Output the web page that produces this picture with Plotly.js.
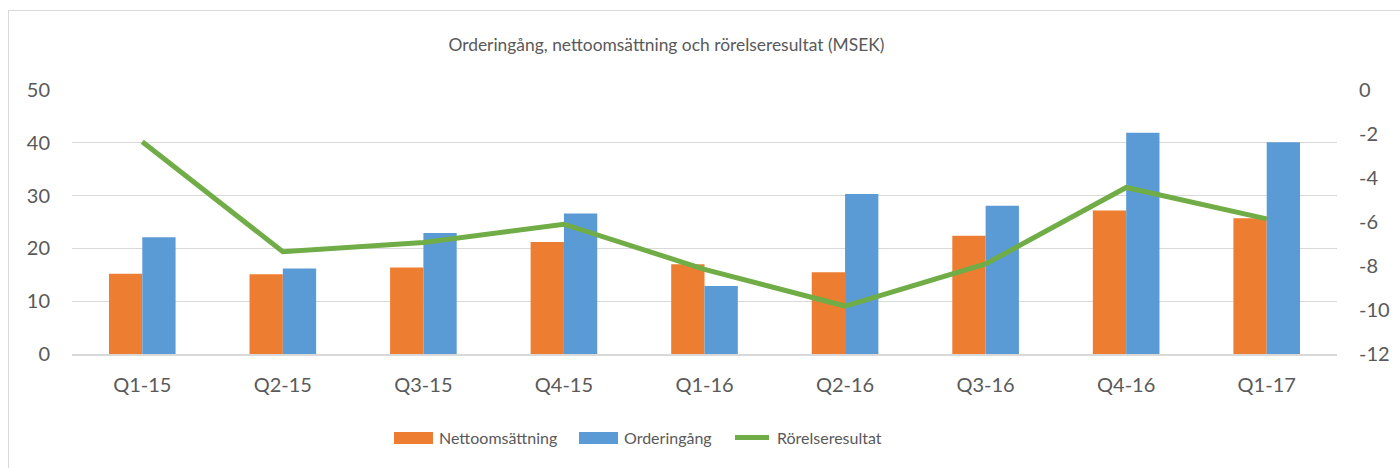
<!DOCTYPE html>
<html>
<head>
<meta charset="utf-8">
<script src="https://cdn.plot.ly/plotly-3.0.1.min.js"></script>
<style>
  html, body { margin: 0; padding: 0; background: #fff; }
  #wrap { position: relative; width: 1400px; height: 468px; overflow: hidden; }
  #chart { width: 1400px; height: 468px; }
  #frame { position: absolute; left: 8px; top: 10px; width: 1400px; height: 470px; border: 1px solid #d9d9d9; pointer-events: none; }
</style>
</head>
<body>
<div id="wrap"><div id="chart"></div><div id="frame"></div></div>
<script>
const categories = ["Q1-15","Q2-15","Q3-15","Q4-15","Q1-16","Q2-16","Q3-16","Q4-16","Q1-17"];
const nettoomsattning = [15.2, 15.1, 16.4, 21.2, 17.0, 15.5, 22.4, 27.2, 25.7];
const orderingang = [22.1, 16.2, 22.9, 26.6, 12.9, 30.3, 28.1, 41.9, 40.1];
const rorelseresultat = [-2.35, -7.35, -6.93, -6.10, -8.15, -9.82, -7.91, -4.43, -5.86];
const rightTickVals = [0, -2, -4, -6, -8, -10, -12];
const rightTickText = ["0", "-2", "-4", "-6", "-8", "-10", "-12"];
const seriesNames = ["Nettoomsättning", "Orderingång", "Rörelseresultat"];
const seriesColors = ["#ed7d31", "#5b9bd5", "#70ad47"];

const fontFam = "Lato, 'Open Sans', sans-serif";
const grey = "#595959";

const traces = [
  { type: "bar", name: seriesNames[0], x: categories, y: nettoomsattning,
    marker: { color: seriesColors[0] }, showlegend: false },
  { type: "bar", name: seriesNames[1], x: categories, y: orderingang,
    marker: { color: seriesColors[1] }, showlegend: false },
  { type: "scatter", mode: "lines", name: seriesNames[2], x: categories, y: rorelseresultat,
    yaxis: "y2", line: { color: seriesColors[2], width: 5 }, showlegend: false }
];

// custom legend (pixel layout converted to paper coords)
const L = 72, R = 1337, T = 90, B = 354;
const px = v => (v - L) / (R - L);
const py = v => (B - v) / (B - T);
const legendX = [394, 579, 733];
const legendY = 437.5;
const shapes = [
  { type: "rect", xref: "paper", yref: "paper", x0: px(legendX[0]), x1: px(legendX[0] + 39),
    y0: py(444), y1: py(432), fillcolor: seriesColors[0], line: { width: 0 } },
  { type: "rect", xref: "paper", yref: "paper", x0: px(legendX[1]), x1: px(legendX[1] + 39),
    y0: py(444), y1: py(432), fillcolor: seriesColors[1], line: { width: 0 } },
  { type: "line", xref: "paper", yref: "paper", x0: px(legendX[2] + 2), x1: px(legendX[2] + 36),
    y0: py(legendY), y1: py(legendY), line: { color: seriesColors[2], width: 5, cap: "round" } }
];
const legendTextX = [437, 622, 775];
const annotations = seriesNames.map((n, i) => ({
  text: n, xref: "paper", yref: "paper", x: px(legendTextX[i]), y: py(legendY),
  xanchor: "left", yanchor: "middle", showarrow: false,
  font: { family: fontFam, size: 16, color: grey }
}));

const layout = {
  width: 1400, height: 468,
  paper_bgcolor: "#fff", plot_bgcolor: "#fff",
  font: { family: fontFam, color: grey, size: 18 },
  margin: { l: L, r: 1400 - R, t: T, b: 468 - B },
  title: { text: "Orderingång, nettoomsättning och rörelseresultat (MSEK)",
    font: { family: fontFam, size: 17.4, color: grey },
    x: 0.476, xanchor: "center", y: 0.904, yanchor: "middle", yref: "container" },
  barmode: "group", bargap: 0.526, bargroupgap: 0,
  xaxis: { type: "category", showgrid: false, showline: true, linecolor: "#d9d9d9", linewidth: 2,
    ticks: "", tickfont: { size: 20, color: grey }, ticklabelstandoff: 12, zeroline: false },
  yaxis: { range: [0, 50], dtick: 10, showgrid: true, gridcolor: "#d9d9d9", gridwidth: 1,
    zeroline: false, showline: false, ticks: "", tickfont: { size: 20, color: grey }, ticklabelstandoff: 21 },
  yaxis2: { overlaying: "y", side: "right", range: [-12, 0], tickmode: "array",
    tickvals: rightTickVals, ticktext: rightTickText, showgrid: false,
    zeroline: false, showline: false, ticks: "", tickfont: { size: 20, color: grey }, ticklabelstandoff: 21 },
  showlegend: false,
  shapes: shapes,
  annotations: annotations,
  hovermode: false
};

Plotly.newPlot("chart", traces, layout, { displayModeBar: false, staticPlot: true });
</script>
</body>
</html>
